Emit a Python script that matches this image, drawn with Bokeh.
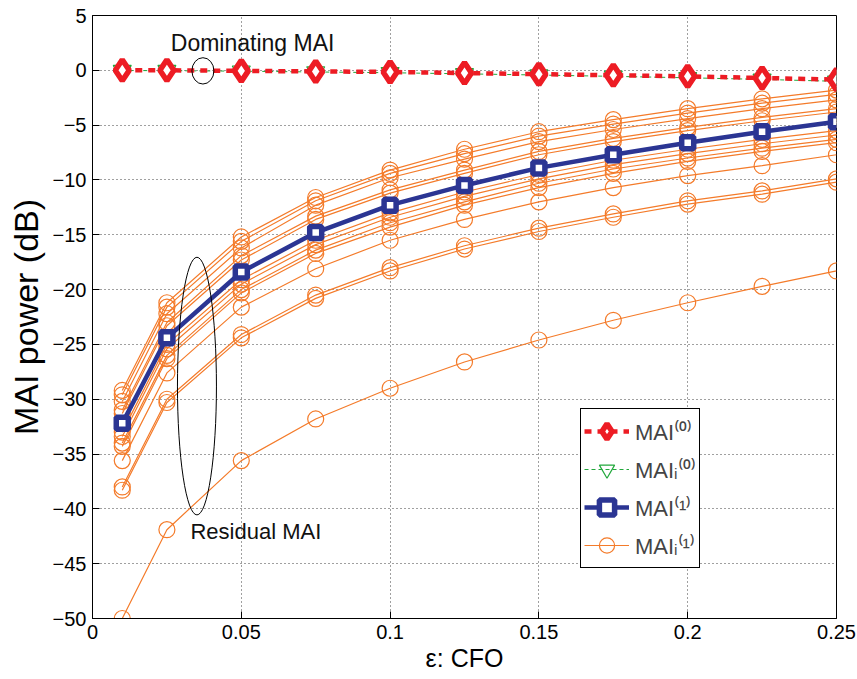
from bokeh.plotting import figure
from bokeh.models import (Range1d, FixedTicker, NumeralTickFormatter,
                          Legend, LegendItem, Label)
from bokeh.embed import file_html
from bokeh.resources import INLINE

# ---------------- data ----------------
cfo = [0.01, 0.025, 0.05, 0.075, 0.1, 0.125, 0.15, 0.175, 0.2, 0.225, 0.25]

mai0 = [0.0, 0.0, -0.05, -0.1, -0.15, -0.25, -0.35, -0.45, -0.55, -0.7, -0.85]
mai0_i = [-0.02, -0.03, -0.08, -0.15, -0.22, -0.32, -0.43, -0.55, -0.68, -0.83, -1.0]
mai1 = [-32.2, -24.4, -18.4, -14.8, -12.3, -10.5, -8.9, -7.7, -6.6, -5.6, -4.7]

mai1_i_a = [-29.2, -21.2, -15.2, -11.6, -9.1, -7.2, -5.6, -4.5, -3.5, -2.6, -1.8]
mai1_i_b = [-29.6, -21.6, -15.6, -11.9, -9.4, -7.6, -6.0, -4.9, -3.9, -3.0, -2.2]
mai1_i_c = [-30.2, -22.2, -16.2, -12.3, -9.8, -8.1, -6.5, -5.4, -4.4, -3.5, -2.7]
mai1_i_d = [-31.0, -23.0, -16.9, -13.3, -10.9, -9.1, -7.4, -6.2, -5.2, -4.3, -3.5]
mai1_i_e = [-31.3, -23.3, -17.3, -13.6, -11.2, -9.4, -7.7, -6.5, -5.5, -4.6, -3.8]
mai1_i_f = [-33.0, -25.0, -19.1, -15.5, -13.0, -11.1, -9.5, -8.2, -7.2, -6.3, -5.5]
mai1_i_g = [-33.4, -25.4, -19.5, -15.9, -13.4, -11.5, -9.9, -8.6, -7.6, -6.7, -5.9]
mai1_i_h = [-34.0, -26.0, -20.0, -16.4, -13.9, -12.0, -10.3, -9.0, -8.0, -7.1, -6.3]
mai1_i_i = [-34.3, -26.3, -20.3, -16.7, -14.3, -12.3, -10.7, -9.4, -8.3, -7.4, -6.6]
mai1_i_j = [-35.6, -27.6, -21.6, -18.1, -15.5, -13.6, -12.0, -10.7, -9.6, -8.7, -7.7]
mai1_i_k = [-38.0, -30.0, -24.1, -20.5, -18.0, -16.0, -14.4, -13.1, -11.9, -11.0, -9.9]
mai1_i_l = [-38.3, -30.3, -24.4, -20.8, -18.3, -16.3, -14.7, -13.4, -12.2, -11.3, -10.2]
mai1_i_m = [-50.0, -41.9, -35.6, -31.8, -29.0, -26.6, -24.6, -22.8, -21.2, -19.7, -18.3]
mai1_i = [mai1_i_a, mai1_i_b, mai1_i_c, mai1_i_d, mai1_i_e, mai1_i_f, mai1_i_g,
          mai1_i_h, mai1_i_i, mai1_i_j, mai1_i_k, mai1_i_l, mai1_i_m]

x_ticks = [0, 0.05, 0.1, 0.15, 0.2, 0.25]
y_ticks = [-50, -45, -40, -35, -30, -25, -20, -15, -10, -5, 0, 5]

# annotations
dom_text_x, dom_text_y = 0.0538, 2.46
res_text_x, res_text_y = 0.0329, -42.1
ell_x = [0.0371, 0.0351]
ell_y = [-0.05, -28.8]
ell_w = [0.0074, 0.0131]
ell_h = [2.4, 23.5]

# ---------------- styles ----------------
FONT = "Liberation Sans"
RED = "#ed1c24"
GREEN = "#22a83c"
BLUE = "#2b3593"
ORANGE = "#f47b2a"

p = figure(width=857, height=679, x_range=Range1d(0, 0.25), y_range=Range1d(-50, 5),
           output_backend="svg", toolbar_location=None,
           min_border_left=92, min_border_right=21, min_border_top=15, min_border_bottom=61)

p.background_fill_color = "white"
p.outline_line_color = "black"
p.outline_line_width = 1
p.outline_line_alpha = 1

# orange MAI_i^(1) curves
orange_line = orange_pts = None
for ys in mai1_i:
    l = p.line(cfo, ys, line_color=ORANGE, line_width=1.2)
    s = p.scatter(cfo, ys, marker="circle", size=16, line_color=ORANGE,
                  fill_color=None, line_width=1.2)
    if orange_line is None:
        orange_line, orange_pts = l, s

blue_line = p.line(cfo, mai1, line_color=BLUE, line_width=4.5)
blue_pts = p.scatter(cfo, mai1, marker="square", size=12, line_color=BLUE,
                     fill_color="white", line_width=5.5)

green_line = p.line(cfo, mai0_i, line_color=GREEN, line_width=1, line_dash="4 3")
green_pts = p.scatter(cfo, mai0_i, marker="inverted_triangle", size=18, line_color=GREEN,
                      fill_color=None, line_width=1.2)

red_line = p.line(cfo, mai0, line_color=RED, line_width=4.5, line_dash="7 6")
red_pts = p.scatter(cfo, mai0, marker="diamond", size=21, line_color=RED,
                    fill_color="white", line_width=5.5)

# ellipses and texts
p.ellipse(x=ell_x, y=ell_y, width=ell_w, height=ell_h, fill_color=None,
          line_color="black", line_width=1)
p.add_layout(Label(x=dom_text_x, y=dom_text_y, text="Dominating MAI", text_align="center",
                   text_baseline="middle", text_font=FONT, text_font_size="23px",
                   text_color="#111111"))
p.add_layout(Label(x=res_text_x, y=res_text_y, text="Residual MAI", text_align="left",
                   text_baseline="middle", text_font=FONT, text_font_size="22px",
                   text_color="#111111"))

# axes
for ax in (p.xaxis[0], p.yaxis[0]):
    ax.major_tick_in = 7
    ax.major_tick_out = 0
    ax.minor_tick_in = 0
    ax.minor_tick_out = 0
    ax.minor_tick_line_color = None
    ax.axis_line_color = "black"
    ax.major_tick_line_color = "black"
    ax.major_label_text_font = FONT
    ax.major_label_text_font_size = "20px"
    ax.major_label_text_color = "black"
    ax.axis_label_text_font = FONT
    ax.axis_label_text_font_style = "normal"
    ax.axis_label_text_color = "black"

p.xaxis.ticker = FixedTicker(ticks=x_ticks)
p.xaxis.formatter = NumeralTickFormatter(format="0.[00]")
p.yaxis.ticker = FixedTicker(ticks=y_ticks)
p.xaxis.axis_label = "ε: CFO"
p.yaxis.axis_label = "MAI power (dB)"
p.xaxis.axis_label_text_font_size = "25px"
p.yaxis.axis_label_text_font_size = "34px"
p.xaxis.axis_label_standoff = 2
p.yaxis.axis_label_standoff = 5
p.xaxis.major_label_standoff = 6
p.yaxis.major_label_standoff = 6

# grid
p.grid.grid_line_color = "black"
p.grid.grid_line_dash = "1 3"
p.grid.grid_line_alpha = 0.75

# legend
legend = Legend(items=[
    LegendItem(label="MAI⁽⁰⁾", renderers=[red_line, red_pts]),
    LegendItem(label="MAIᵢ⁽⁰⁾", renderers=[green_line, green_pts]),
    LegendItem(label="MAI⁽¹⁾", renderers=[blue_line, blue_pts]),
    LegendItem(label="MAIᵢ⁽¹⁾", renderers=[orange_line, orange_pts]),
], location=(488, 50))
legend.border_line_color = "black"
legend.border_line_width = 1
legend.border_line_alpha = 1
legend.background_fill_alpha = 1
legend.label_text_font = FONT
legend.label_text_font_size = "22px"
legend.glyph_width = 45
legend.glyph_height = 38
legend.label_height = 38
legend.spacing = 0
legend.padding = 3
legend.margin = 0
legend.label_standoff = 6
p.add_layout(legend)

open("out.html", "w").write(file_html(p, INLINE))
